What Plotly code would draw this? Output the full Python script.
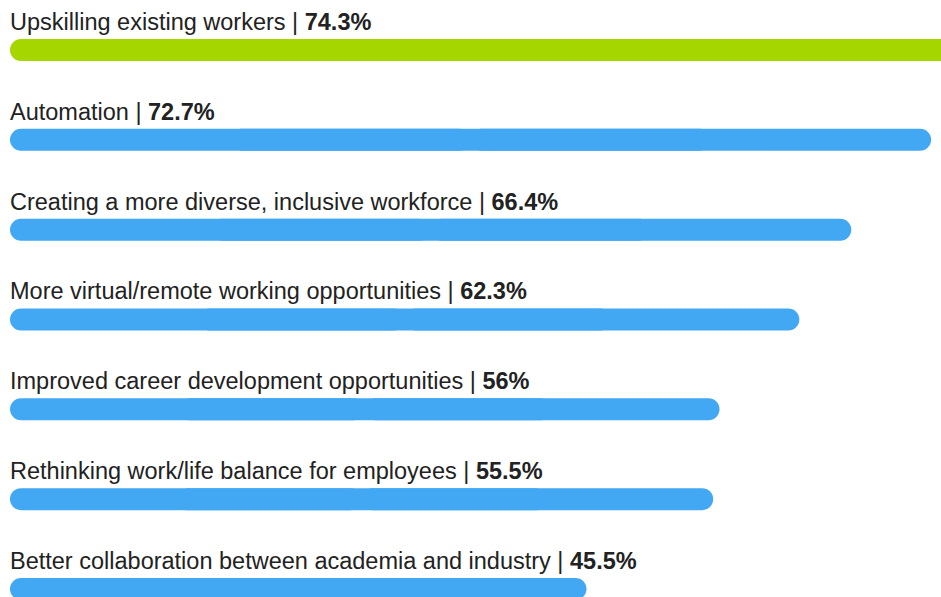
import plotly.graph_objects as go

# Survey results: share of respondents per workforce strategy (%)
categories = [
    "Upskilling existing workers",
    "Automation",
    "Creating a more diverse, inclusive workforce",
    "More virtual/remote working opportunities",
    "Improved career development opportunities",
    "Rethinking work/life balance for employees",
    "Better collaboration between academia and industry",
]
values = [74.3, 72.7, 66.4, 62.3, 56, 55.5, 45.5]
bar_colors = ["#a6d600"] + ["#42a8f4"] * 6

W, H = 941, 597
pitch_px = 89.83          # vertical distance between bars
first_center_px = 50      # centre of the first bar
bar_px = 22               # bar thickness
left_px = 10              # where zero sits
px_per_unit = 12.67       # pixels per percentage point

pos = list(range(len(categories)))
half = [v / 2 for v in values]
neg_half = [-h for h in half]
quarter = [v / 4 for v in values]
bar_w = bar_px / pitch_px

fig = go.Figure()
# Each bar is drawn as two halves growing out from its midpoint, so that
# the rounded corner setting applies to both the left and right ends.
for xs in (half, neg_half):
    fig.add_trace(go.Bar(
        y=pos, x=xs, base=half, orientation="h",
        width=bar_w,
        marker=dict(color=bar_colors, cornerradius=11, line=dict(width=0)),
        hoverinfo="skip", showlegend=False,
    ))
# Square-cornered middle piece hides the seam between the two halves
fig.add_trace(go.Bar(
    y=pos, x=half, base=quarter, orientation="h",
    width=bar_w,
    marker=dict(color=bar_colors, line=dict(width=0)),
    hoverinfo="skip", showlegend=False,
))

label_off = (first_center_px - 21) / pitch_px
for i, (c, v) in enumerate(zip(categories, values)):
    fig.add_annotation(
        x=0, y=i - label_off, xref="x", yref="y",
        text=f"{c} | <b>{v:g}%</b>",
        showarrow=False, xanchor="left", yanchor="middle",
        xshift=-2, yshift=-1,
        font=dict(family="Liberation Sans, Arial, sans-serif", size=23.5, color="#222222"),
    )

x0 = -left_px / px_per_unit
x1 = x0 + W / px_per_unit
y_top = -first_center_px / pitch_px
y_bot = y_top + H / pitch_px

fig.update_layout(
    width=W, height=H,
    margin=dict(l=0, r=0, t=0, b=0),
    paper_bgcolor="white", plot_bgcolor="white",
    barmode="overlay",
    xaxis=dict(range=[x0, x1], visible=False, fixedrange=True),
    yaxis=dict(range=[y_bot, y_top], visible=False, fixedrange=True),
)

fig.write_html("out.html")
